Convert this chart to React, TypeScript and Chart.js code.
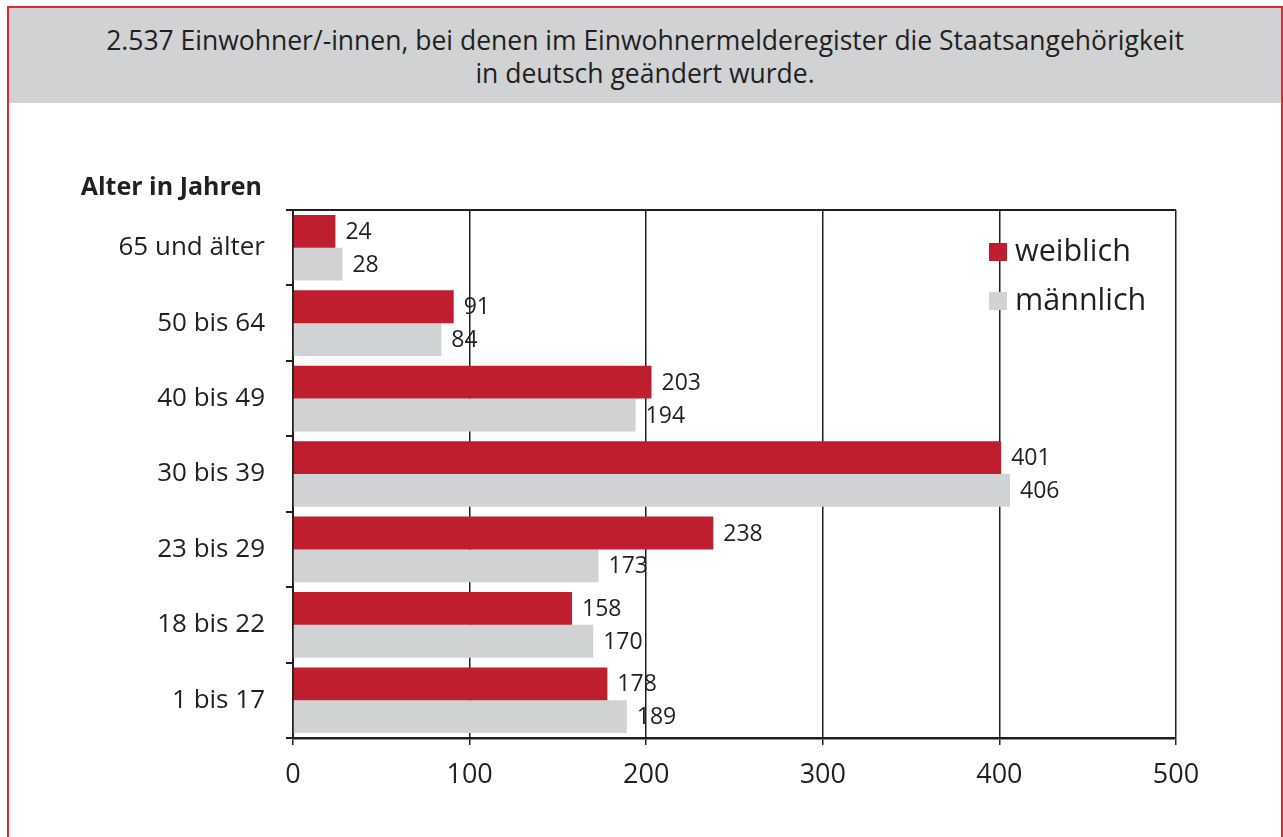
import React, { useEffect, useRef } from "react";
import { Chart, registerables } from "chart.js";

Chart.register(...registerables);

const titleLines = [
  "2.537 Einwohner/-innen, bei denen im Einwohnermelderegister die Staatsangehörigkeit",
  "in deutsch geändert wurde.",
];
const axisTitle = "Alter in Jahren";
const categories = ["65 und älter", "50 bis 64", "40 bis 49", "30 bis 39", "23 bis 29", "18 bis 22", "1 bis 17"];
const weiblich = [24, 91, 203, 401, 238, 158, 178];
const maennlich = [28, 84, 194, 406, 173, 170, 189];
const seriesNames = ["weiblich", "männlich"];
const xTicks = [0, 100, 200, 300, 400, 500];

const RED = "#be1e2d";
const GRAY = "#d1d2d4";
const INK = "#231f20";
const FONT = "'Open Sans', 'Noto Sans', sans-serif";

const W = 1283;
const H = 734;

const decor = {
  id: "decor",
  afterDatasetsDraw(chart: any) {
    const { ctx, chartArea } = chart;
    ctx.save();
    // top frame line
    ctx.strokeStyle = INK;
    ctx.lineWidth = 2;
    ctx.beginPath();
    ctx.moveTo(chartArea.left, chartArea.top);
    ctx.lineTo(chartArea.right, chartArea.top);
    ctx.stroke();
    // data labels
    ctx.font = `23px ${FONT}`;
    ctx.fillStyle = INK;
    ctx.textAlign = "left";
    ctx.textBaseline = "middle";
    chart.data.datasets.forEach((ds: any, di: number) => {
      const meta = chart.getDatasetMeta(di);
      meta.data.forEach((bar: any, i: number) => {
        ctx.fillText(String(ds.data[i]), bar.x + 10, bar.y + 1);
      });
    });
    // axis title
    ctx.font = `bold 25px ${FONT}`;
    ctx.textAlign = "right";
    ctx.fillText(axisTitle, chartArea.left - 31, chartArea.top - 22);
    // legend
    ctx.font = `30.5px ${FONT}`;
    ctx.textAlign = "left";
    chart.data.datasets.forEach((ds: any, di: number) => {
      const cy = chartArea.top + 42 + di * 49;
      const x = chartArea.right - 187;
      ctx.fillStyle = ds.backgroundColor;
      ctx.fillRect(x, cy - 9, 18, 18);
      ctx.fillStyle = INK;
      ctx.fillText(ds.label, x + 26, cy);
    });
    ctx.restore();
  },
};

function BarChart() {
  const ref = useRef<HTMLCanvasElement>(null);
  useEffect(() => {
    if (!ref.current) return;
    const chart = new Chart(ref.current, {
      type: "bar",
      data: {
        labels: categories,
        datasets: [
          { label: seriesNames[0], data: weiblich, backgroundColor: RED, categoryPercentage: 0.87, barPercentage: 1 },
          { label: seriesNames[1], data: maennlich, backgroundColor: GRAY, categoryPercentage: 0.87, barPercentage: 1 },
        ],
      },
      options: {
        indexAxis: "y",
        responsive: false,
        animation: false,
        layout: { padding: { left: 0, top: 107, right: 107, bottom: 0 } },
        plugins: { legend: { display: false }, tooltip: { enabled: false }, title: { display: false } },
        scales: {
          x: {
            min: 0,
            max: 500,
            afterBuildTicks: (s: any) => {
              s.ticks = xTicks.map((v) => ({ value: v }));
            },
            afterFit: (s: any) => {
              s.height = 99;
            },
            grid: { color: INK, lineWidth: 1.5, tickLength: 7, drawOnChartArea: true },
            border: { color: INK, width: 2.5 },
            ticks: { color: INK, font: { family: FONT, size: 27 }, padding: 14 },
          },
          y: {
            afterFit: (s: any) => {
              s.width = 293;
            },
            grid: { offset: true, drawOnChartArea: false, color: INK, lineWidth: 2, tickLength: 7 },
            border: { color: INK, width: 2 },
            ticks: { color: INK, font: { family: FONT, size: 26 }, padding: 21 },
          },
        },
      },
      plugins: [decor],
    } as any);
    return () => chart.destroy();
  }, []);
  return <canvas ref={ref} width={W} height={H} style={{ position: "absolute", left: 0, top: 103, width: W, height: H }} />;
}

export default function App() {
  return (
    <div style={{ position: "absolute", left: 0, top: 0, width: 1283, height: 837, overflow: "hidden", background: "#fff" }}>
      <div
        style={{
          position: "absolute",
          left: 7,
          top: 6,
          width: 1272,
          height: 900,
          border: "2px solid #e3262f",
          boxSizing: "content-box",
        }}
      />
      <div
        style={{
          position: "absolute",
          left: 9,
          top: 8,
          width: 1272,
          height: 95,
          background: GRAY,
          color: INK,
          fontFamily: FONT,
          fontSize: 26.5,
          lineHeight: "33px",
          textAlign: "center",
          paddingTop: 16,
          boxSizing: "border-box",
        }}
      >
        {titleLines.map((l, i) => (
          <div key={i}>{l}</div>
        ))}
      </div>
      <BarChart />
    </div>
  );
}
